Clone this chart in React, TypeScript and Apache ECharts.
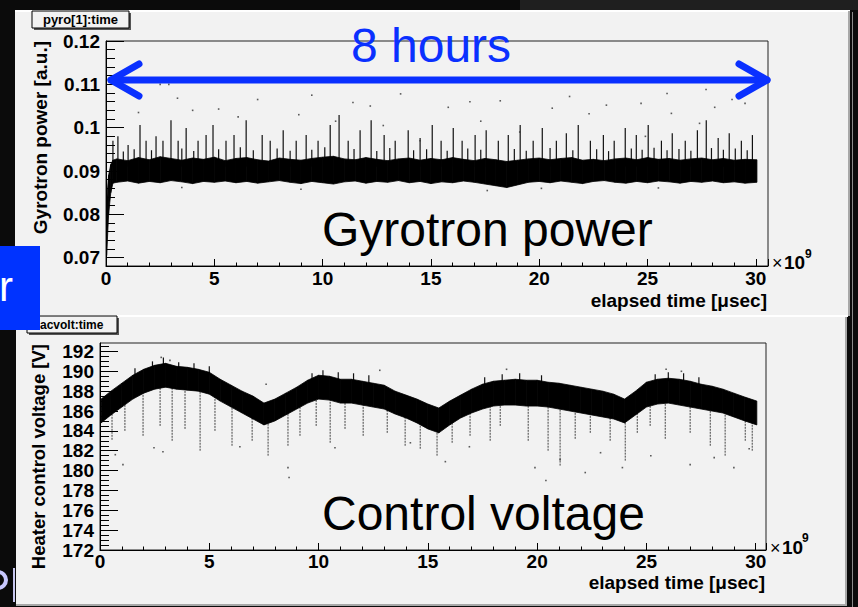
import React, { useEffect, useRef } from "react";
import * as echarts from "echarts";

const FONT = "'Liberation Sans', Arial, Helvetica, sans-serif";
const BLUE = "#0a30ff";
const PANEL = "#f2f2f2";

// ---------- Gyrotron power (top pad) ----------
const gyroX = [0.03, 0.12, 0.22, 0.32, 0.5, 1, 1.5, 2, 2.5, 3, 3.5, 4, 4.5, 5, 5.5, 6, 6.5, 7, 7.5, 8, 8.5, 9, 9.5, 10, 10.5, 11, 11.5, 12, 12.5, 13, 13.5, 14, 14.5, 15, 15.5, 16, 16.5, 17, 17.5, 18, 18.5, 19, 19.5, 20, 20.5, 21, 21.5, 22, 22.5, 23, 23.5, 24, 24.5, 25, 25.5, 26, 26.5, 27, 27.5, 28, 28.5, 29, 29.5, 30.05];
const gyroLow = [0.0705, 0.08, 0.085, 0.0872, 0.0874, 0.0877, 0.0872, 0.0876, 0.0873, 0.0878, 0.0875, 0.0871, 0.0876, 0.0874, 0.0877, 0.0873, 0.0876, 0.0872, 0.0875, 0.0878, 0.0874, 0.0871, 0.0876, 0.0873, 0.087, 0.0875, 0.0877, 0.0872, 0.0876, 0.0874, 0.0878, 0.0873, 0.0876, 0.0871, 0.0875, 0.0873, 0.0877, 0.0874, 0.087, 0.0866, 0.0862, 0.0868, 0.0874, 0.0876, 0.0873, 0.0877, 0.0874, 0.0871, 0.0876, 0.0878, 0.0874, 0.0872, 0.0876, 0.0873, 0.0877, 0.0875, 0.0872, 0.0876, 0.0874, 0.0877, 0.0873, 0.0875, 0.0872, 0.0874];
const gyroHigh = [0.083, 0.089, 0.0915, 0.0925, 0.0928, 0.0924, 0.0931, 0.0926, 0.0933, 0.0929, 0.0925, 0.093, 0.0927, 0.0932, 0.0924, 0.0929, 0.0931, 0.0926, 0.0923, 0.093, 0.0927, 0.0925, 0.0929, 0.0932, 0.0934, 0.0928, 0.0926, 0.0931, 0.0927, 0.0924, 0.0928, 0.093, 0.0925, 0.0929, 0.0926, 0.0931, 0.0927, 0.0924, 0.0929, 0.0926, 0.0922, 0.0925, 0.0928, 0.093, 0.0926, 0.0929, 0.0931, 0.0925, 0.0927, 0.0924, 0.0928, 0.093, 0.0926, 0.0931, 0.0927, 0.0929, 0.0925, 0.0928, 0.093, 0.0926, 0.0929, 0.0925, 0.0927, 0.0926];
const gyroSpikeX = [0.32, 0.55, 0.8, 1.02, 1.3, 1.57, 1.85, 2.1, 2.31, 2.63, 3.0, 3.33, 3.5, 3.7, 4.05, 4.25, 4.62, 4.94, 5.2, 5.54, 5.91, 6.2, 6.47, 6.8, 7.21, 7.58, 7.9, 8.18, 8.5, 8.78, 9.24, 9.5, 9.79, 10.1, 10.35, 10.76, 11.18, 11.45, 11.73, 12.24, 12.5, 12.84, 13.1, 13.35, 13.95, 14.2, 14.5, 14.8, 15.06, 15.47, 15.75, 16.03, 16.44, 16.7, 17.04, 17.3, 17.55, 18.11, 18.57, 18.85, 19.12, 19.4, 19.72, 20.14, 20.5, 20.79, 21.25, 21.55, 21.8, 22.36, 22.65, 22.96, 23.2, 23.46, 23.97, 24.25, 24.48, 24.75, 25.03, 25.3, 25.64, 25.9, 26.14, 26.45, 26.74, 27.0, 27.3, 27.71, 27.95, 28.26, 28.5, 28.77, 29.05, 29.33, 29.6, 29.84];
const gyroSpikeTop = [0.097, 0.098, 0.0945, 0.096, 0.095, 0.1006, 0.097, 0.0948, 0.098, 0.097, 0.1017, 0.097, 0.0952, 0.0999, 0.0946, 0.097, 0.0983, 0.1006, 0.095, 0.097, 0.0983, 0.0955, 0.1017, 0.0948, 0.0983, 0.097, 0.0952, 0.0994, 0.0947, 0.097, 0.0983, 0.0949, 0.097, 0.0955, 0.1006, 0.1029, 0.097, 0.0951, 0.0994, 0.1017, 0.0946, 0.0983, 0.0953, 0.097, 0.0994, 0.0948, 0.0976, 0.095, 0.1006, 0.097, 0.0947, 0.0999, 0.097, 0.0952, 0.0983, 0.0949, 0.0994, 0.097, 0.0983, 0.0951, 0.1006, 0.0947, 0.097, 0.0999, 0.0953, 0.097, 0.0987, 0.0948, 0.1006, 0.097, 0.095, 0.0983, 0.0946, 0.097, 0.0999, 0.0952, 0.0983, 0.0949, 0.1006, 0.0954, 0.097, 0.0948, 0.0987, 0.0951, 0.097, 0.0947, 0.0994, 0.1017, 0.0953, 0.0976, 0.0949, 0.0987, 0.0952, 0.097, 0.0948, 0.0983];
const gyroDotX = [1.1, 1.5, 2.5, 2.9, 3.3, 3.5, 4.0, 5.2, 6.1, 7.0, 8.9, 9.0, 9.5, 10.6, 11.4, 12.2, 12.8, 13.6, 14.5, 15.8, 16.8, 17.3, 17.6, 18.2, 19.1, 20.1, 20.6, 21.4, 22.3, 23.1, 24.7, 24.9, 25.5, 25.9, 26.1, 27.4, 27.7, 28.1, 28.9, 29.5];
const gyroDotY = [0.1082, 0.1035, 0.11, 0.11, 0.1068, 0.0862, 0.104, 0.1043, 0.1025, 0.1065, 0.103, 0.0858, 0.1075, 0.1015, 0.1058, 0.105, 0.1005, 0.1078, 0.097, 0.1047, 0.106, 0.1015, 0.0855, 0.1062, 0.099, 0.086, 0.1045, 0.1072, 0.1032, 0.1052, 0.1056, 0.098, 0.0861, 0.1079, 0.1033, 0.101, 0.1088, 0.1047, 0.1065, 0.1056];
const gyroYTicks = [0.07, 0.08, 0.09, 0.1, 0.11, 0.12];

// ---------- Heater control voltage (bottom pad) ----------
const voltX = [0.05, 0.5, 1, 1.5, 2, 2.5, 3, 3.5, 4, 4.5, 5, 5.5, 6, 6.5, 7, 7.5, 8, 8.5, 9, 9.5, 10, 10.5, 11, 11.5, 12, 12.5, 13, 13.5, 14, 14.5, 15, 15.5, 16, 16.5, 17, 17.5, 18, 18.5, 19, 19.5, 20, 20.5, 21, 21.5, 22, 22.5, 23, 23.5, 24, 24.5, 25, 25.5, 26, 26.5, 27, 27.5, 28, 28.5, 29, 29.5, 30.05];
const voltLow = [184.8, 185.6, 186.4, 187.2, 187.8, 188.2, 188.4, 188.2, 188.1, 188.0, 187.7, 187.0, 186.4, 185.8, 185.2, 184.6, 185.0, 185.6, 186.2, 186.8, 187.2, 187.1, 186.8, 186.8, 186.6, 186.4, 186.2, 185.7, 185.3, 184.8, 184.2, 183.8, 184.6, 185.3, 185.8, 186.2, 186.5, 186.6, 186.6, 186.5, 186.5, 186.4, 186.2, 186.0, 185.8, 185.6, 185.4, 185.2, 184.8, 185.6, 186.4, 186.7, 186.8, 186.6, 186.4, 186.2, 186.0, 185.8, 185.4, 185.0, 184.6];
const voltHigh = [187.2, 188.0, 188.8, 189.6, 190.2, 190.6, 190.8, 190.5, 190.4, 190.2, 189.9, 189.2, 188.6, 188.0, 187.5, 186.8, 187.2, 187.8, 188.4, 189.1, 189.6, 189.5, 189.2, 189.2, 189.0, 188.8, 188.6, 188.0, 187.6, 187.2, 186.7, 186.3, 187.0, 187.6, 188.2, 188.7, 189.0, 189.1, 189.2, 189.1, 189.1, 188.9, 188.8, 188.6, 188.4, 188.2, 188.0, 187.7, 187.2, 188.0, 188.9, 189.2, 189.3, 189.2, 189.0, 188.7, 188.5, 188.2, 187.8, 187.4, 187.0];
const voltSpikeX = [0.55, 1.14, 1.97, 2.75, 3.3, 3.89, 4.58, 5.26, 6.04, 6.96, 7.69, 8.6, 9.15, 9.89, 10.53, 11.21, 12.04, 13.14, 13.96, 14.65, 15.42, 16.11, 16.93, 17.85, 18.31, 19.59, 20.5, 21.05, 21.74, 22.43, 23.34, 24.03, 24.58, 25.17, 25.86, 27.0, 27.92, 28.6, 29.52, 29.84];
const voltSpikeLow = [183.1, 184.0, 183.5, 184.5, 183.0, 184.2, 182.0, 184.0, 182.5, 183.0, 181.5, 182.5, 183.5, 184.5, 182.8, 184.2, 183.5, 183.8, 182.5, 182.2, 181.5, 182.8, 183.5, 183.0, 184.5, 183.0, 182.0, 180.5, 183.2, 183.8, 183.0, 181.0, 183.8, 184.5, 183.2, 183.8, 182.5, 181.5, 183.0, 182.0];
const voltSpikeTop = [186.0, 187.0, 188.0, 188.6, 188.6, 188.3, 188.2, 187.6, 186.6, 185.5, 185.0, 186.0, 186.4, 187.3, 187.3, 187.0, 186.8, 186.3, 185.5, 184.9, 184.1, 185.0, 186.0, 186.7, 186.8, 186.7, 186.6, 186.4, 186.1, 185.8, 185.5, 185.0, 185.9, 186.7, 187.0, 186.6, 186.2, 186.0, 185.2, 185.0];
const voltUpX = [1.6, 2.4, 2.9, 3.6, 4.3, 5.0, 9.7, 10.2, 10.9, 11.6, 12.3, 17.6, 18.4, 19.2, 20.2, 25.4, 26.0, 26.7, 27.4];
const voltUpTop = [190.3, 191.0, 191.4, 190.9, 190.8, 190.5, 189.8, 190.1, 189.9, 189.8, 189.6, 189.4, 189.7, 189.8, 189.6, 189.7, 189.9, 189.8, 189.4];
const voltUpBase = [189.0, 190.0, 190.4, 190.0, 190.0, 189.6, 188.6, 189.2, 188.9, 188.9, 188.7, 188.4, 188.8, 189.0, 188.8, 188.8, 189.0, 188.9, 188.5];
const voltDotX = [0.7, 1.05, 2.47, 2.8, 2.88, 3.2, 6.4, 7.6, 8.6, 8.65, 10.75, 12.8, 14.2, 15.8, 16.9, 18.6, 19.9, 20.4, 21.05, 22.2, 22.9, 23.9, 25.2, 25.9, 26.6, 27.0, 28.1, 29.0, 29.7];
const voltDotY = [181.6, 180.6, 182.3, 191.4, 181.9, 191.1, 182.4, 188.7, 180.3, 179.3, 182.3, 190.1, 182.8, 180.9, 182.4, 190.2, 180.3, 179.0, 181.1, 179.8, 181.8, 180.3, 181.5, 190.2, 190.0, 180.6, 181.3, 180.3, 182.2];
const voltYTicks = [172, 174, 176, 178, 180, 182, 184, 186, 188, 190, 192];

const timeTicks = [0, 5, 10, 15, 20, 25, 30];

function minorList(start: number, end: number, step: number, majors: number[]) {
  const out: number[] = [];
  const n = Math.round((end - start) / step);
  for (let i = 0; i <= n; i++) {
    const v = +(start + i * step).toFixed(6);
    if (!majors.some((m) => Math.abs(m - v) < step / 10)) out.push(v);
  }
  return out;
}

function bandSeries(xs: number[], lo: number[], hi: number[], gi: number) {
  return {
    type: "custom",
    xAxisIndex: gi,
    yAxisIndex: gi * 2,
    z: 5,
    clip: true,
    data: xs.slice(0, xs.length - 1).map((x, i) => [x, lo[i], hi[i]]),
    encode: { x: 0, y: [1, 2] },
    renderItem: (params: any, api: any) => {
      const i = params.dataIndex;
      const a = api.coord([xs[i], lo[i]]);
      const b = api.coord([xs[i + 1], lo[i + 1]]);
      const c = api.coord([xs[i + 1], hi[i + 1]]);
      const d = api.coord([xs[i], hi[i]]);
      return {
        type: "polygon",
        shape: { points: [a, b, c, d] },
        style: { fill: "#000", stroke: "#000", lineWidth: 0.8 },
      };
    },
  };
}

function spikeSeries(xs: number[], lo: number[], hi: number[], gi: number, stroke: string, dash: number[] | null, width: number) {
  return {
    type: "custom",
    xAxisIndex: gi,
    yAxisIndex: gi * 2,
    z: 4,
    clip: true,
    data: xs.map((x, i) => [x, lo[i], hi[i]]),
    encode: { x: 0, y: [1, 2] },
    renderItem: (params: any, api: any) => {
      const p1 = api.coord([api.value(0), api.value(1)]);
      const p2 = api.coord([api.value(0), api.value(2)]);
      return {
        type: "line",
        shape: { x1: p1[0], y1: p1[1], x2: p2[0], y2: p2[1] },
        style: { stroke, lineWidth: width, lineDash: dash || undefined },
      };
    },
  };
}

function dotSeries(xs: number[], ys: number[], gi: number) {
  return {
    type: "scatter",
    xAxisIndex: gi,
    yAxisIndex: gi * 2,
    z: 4,
    symbol: "rect",
    symbolSize: 1.6,
    itemStyle: { color: "#333" },
    data: xs.map((x, i) => [x, ys[i]]),
  };
}

const labelStyle = { color: "#000", fontFamily: FONT, fontWeight: "bold", fontSize: 19 };

function xAxisFor(gi: number, max: number, margin: number) {
  return {
    type: "value",
    gridIndex: gi,
    min: 0,
    max,
    interval: 5,
    axisLine: { show: true, lineStyle: { color: "#000", width: 1 } },
    axisTick: { show: true, inside: true, length: 7, lineStyle: { color: "#000" } },
    minorTick: { show: true, splitNumber: 5, length: 3.5, lineStyle: { color: "#000" } },
    axisLabel: { ...labelStyle, margin, customValues: timeTicks },
    splitLine: { show: false },
    z: 6,
  };
}

function yAxesFor(gi: number, min: number, max: number, majors: number[], minors: number[], fmt: (v: number) => string) {
  return [
    {
      type: "value",
      gridIndex: gi,
      position: "left",
      min,
      max,
      axisLine: { show: true, lineStyle: { color: "#000", width: 1 } },
      axisTick: { show: true, inside: true, length: 18, customValues: majors, lineStyle: { color: "#000" } },
      axisLabel: { ...labelStyle, fontSize: 19, margin: 6, customValues: majors, formatter: fmt },
      splitLine: { show: false },
      z: 6,
    },
    {
      type: "value",
      gridIndex: gi,
      position: "left",
      min,
      max,
      axisLine: { show: false },
      axisTick: { show: true, inside: true, length: 9, customValues: minors, lineStyle: { color: "#000" } },
      axisLabel: { show: false },
      splitLine: { show: false },
      z: 6,
    },
  ];
}

const gyroMinors = minorList(0.07, 0.12, 0.002, gyroYTicks);
const voltMinors = minorList(172, 192.5, 0.5, voltYTicks);

const txt = (x: number, y: number, text: string, size: number, extra: any = {}, el: any = {}) => ({
  type: "text",
  x,
  y,
  z: 60,
  ...el,
  style: { text, fontFamily: FONT, fontSize: size, fill: "#000", ...extra },
});

const graphic = [
  // slide background pieces
  { type: "rect", z: -10, shape: { x: 0, y: 0, width: 858, height: 607 }, style: { fill: "#0b0b0b" } },
  { type: "rect", z: -9, shape: { x: 520, y: 0, width: 338, height: 10 }, style: { fill: "#1f1f1f" } },
  // top pad
  { type: "rect", z: -8, shape: { x: 15, y: 10, width: 835, height: 306 }, style: { fill: PANEL } },
  { type: "rect", z: -7, shape: { x: 15, y: 10, width: 835, height: 2 }, style: { fill: "#ffffff" } },
  { type: "rect", z: -7, shape: { x: 848, y: 11, width: 2, height: 305 }, style: { fill: "#a8a8a8" } },
  // bottom pad
  { type: "rect", z: -8, shape: { x: 16, y: 316, width: 831, height: 290 }, style: { fill: PANEL } },
  { type: "rect", z: -7, shape: { x: 16, y: 315, width: 832, height: 2 }, style: { fill: "#ffffff" } },
  { type: "rect", z: -7, shape: { x: 845, y: 317, width: 2, height: 289 }, style: { fill: "#a8a8a8" } },
  { type: "rect", z: -7, shape: { x: 16, y: 604, width: 831, height: 2 }, style: { fill: "#a8a8a8" } },
  { type: "rect", z: -7, shape: { x: 852, y: 12, width: 1, height: 595 }, style: { fill: "#8a8a8a" } },

  // title boxes
  { type: "rect", z: 50, shape: { x: 34, y: 13, width: 97, height: 17 }, style: { fill: "#555" } },
  { type: "rect", z: 51, shape: { x: 32, y: 11, width: 97, height: 17 }, style: { fill: PANEL, stroke: "#000", lineWidth: 1 } },
  txt(80.5, 19.5, "pyro[1]:time", 13, { fontWeight: "bold", align: "center", verticalAlign: "middle" }, { z: 52 }),
  { type: "rect", z: 50, shape: { x: 29, y: 318, width: 90, height: 17 }, style: { fill: "#555" } },
  { type: "rect", z: 51, shape: { x: 27, y: 316, width: 90, height: 17 }, style: { fill: PANEL, stroke: "#000", lineWidth: 1 } },
  txt(40, 324.5, "acvolt:time", 12, { fontWeight: "bold", align: "left", verticalAlign: "middle" }, { z: 52 }),

  // axis titles
  txt(40, 41, "Gyrotron power [a.u.]", 19, { fontWeight: "bold", align: "right", verticalAlign: "middle" }, { rotation: Math.PI / 2 }),
  txt(38, 344, "Heater control voltage [V]", 18.5, { fontWeight: "bold", align: "right", verticalAlign: "middle" }, { rotation: Math.PI / 2 }),
  txt(767, 300, "elapsed time [\u03bcsec]", 19, { fontWeight: "bold", align: "right", verticalAlign: "middle" }),
  txt(765, 582, "elapsed time [\u03bcsec]", 19, { fontWeight: "bold", align: "right", verticalAlign: "middle" }),
  txt(772, 263, "\u00d7", 18, { align: "left", verticalAlign: "middle" }),
  txt(784, 262, "10", 19, { fontWeight: "bold", align: "left", verticalAlign: "middle" }),
  txt(805, 254, "9", 12, { fontWeight: "bold", align: "left", verticalAlign: "middle" }),
  txt(770, 548, "\u00d7", 18, { align: "left", verticalAlign: "middle" }),
  txt(782, 547, "10", 19, { fontWeight: "bold", align: "left", verticalAlign: "middle" }),
  txt(802, 538, "9", 12, { fontWeight: "bold", align: "left", verticalAlign: "middle" }),

  // big annotations
  txt(322, 229, "Gyrotron power", 48, { align: "left", verticalAlign: "middle" }),
  txt(322, 513, "Control voltage", 48, { align: "left", verticalAlign: "middle" }),
  txt(431, 45, "8 hours", 48, { align: "center", verticalAlign: "middle", fill: BLUE }, { z: 70 }),

  // arrow
  { type: "line", z: 70, shape: { x1: 111, y1: 80, x2: 767, y2: 80 }, style: { stroke: BLUE, lineWidth: 7, lineCap: "round" } },
  { type: "polyline", z: 70, shape: { points: [[139, 64], [111, 80], [139, 96]] }, style: { stroke: BLUE, lineWidth: 7, lineCap: "round", lineJoin: "round", fill: "none" } },
  { type: "polyline", z: 70, shape: { points: [[739, 64], [767, 80], [739, 96]] }, style: { stroke: BLUE, lineWidth: 7, lineCap: "round", lineJoin: "round", fill: "none" } },

  // slide fragments
  { type: "rect", z: 80, shape: { x: 0, y: 246, width: 40, height: 84 }, style: { fill: "#0033ff" } },
  txt(-1, 286, "r", 42, { fill: "#ffffff", align: "left", verticalAlign: "middle" }, { z: 81 }),
  { type: "arc", z: 81, shape: { cx: -2, cy: 580, r: 8, startAngle: -Math.PI / 2, endAngle: Math.PI / 2 }, style: { stroke: "#c8c8ff", lineWidth: 4, fill: "none" } },
  { type: "rect", z: 81, shape: { x: 13, y: 568, width: 2, height: 34 }, style: { fill: "#c8c8f0" } },
];

const option: any = {
  animation: false,
  backgroundColor: "#0b0b0b",
  textStyle: { fontFamily: FONT },
  graphic,
  grid: [
    { left: 106, top: 41, width: 662, height: 225, show: true, borderColor: "#222", borderWidth: 1, backgroundColor: "transparent", z: 3 },
    { left: 100, top: 343, width: 666, height: 207, show: true, borderColor: "#222", borderWidth: 1, backgroundColor: "transparent", z: 3 },
  ],
  xAxis: [xAxisFor(0, 30.56, 3), xAxisFor(1, 30.47, 2)],
  yAxis: [
    ...yAxesFor(0, 0.06809, 0.12, gyroYTicks, gyroMinors, (v: number) => String(parseFloat((+v).toFixed(3)))),
    ...yAxesFor(1, 172, 192.85, voltYTicks, voltMinors, (v: number) => String(Math.round(+v))),
  ],
  series: [
    spikeSeries(gyroSpikeX, gyroSpikeX.map(() => 0.091), gyroSpikeTop, 0, "#111", null, 1.2),
    dotSeries(gyroDotX, gyroDotY, 0),
    bandSeries(gyroX, gyroLow, gyroHigh, 0),
    spikeSeries(voltSpikeX, voltSpikeLow, voltSpikeTop, 1, "#444", [2, 1], 1),
    spikeSeries(voltUpX, voltUpBase, voltUpTop, 1, "#111", null, 1.2),
    dotSeries(voltDotX, voltDotY, 1),
    bandSeries(voltX, voltLow, voltHigh, 1),
  ],
};

export default function App() {
  const ref = useRef<HTMLDivElement>(null);
  useEffect(() => {
    const chart = echarts.init(ref.current!, null, { renderer: "svg" });
    chart.setOption(option);
    return () => chart.dispose();
  }, []);
  return <div ref={ref} style={{ position: "fixed", left: 0, top: 0, width: 858, height: 607 }} />;
}
